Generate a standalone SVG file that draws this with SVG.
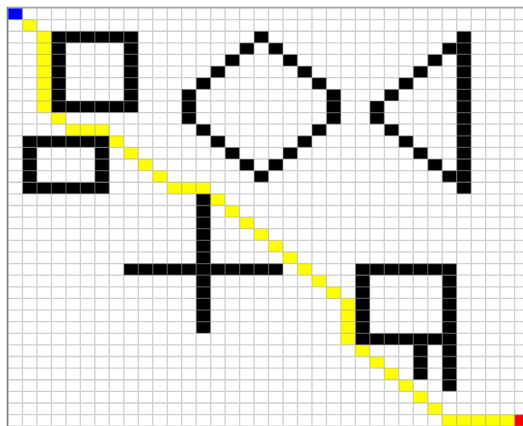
<svg xmlns="http://www.w3.org/2000/svg" width="523" height="426" viewBox="0 0 523 426">
<style>
.k{fill:#000000}
.y{fill:#ffff00}
.b{fill:#0000ff}
.r{fill:#ff0000}
.grid{stroke:#a0a0a0;stroke-opacity:0.5;stroke-width:1.3;fill:none}
</style>
<defs>
<rect id="c" width="1" height="1"/>
</defs>
<rect width="523" height="426" fill="#ffffff"/>
<g transform="translate(8,8) scale(14.474,11.617)">
  <g id="route">
    <rect class="b" x="0" y="0" width="1" height="1"/>
    <g class="y">
      <use href="#c" x="1" y="1"/>
      <rect x="2" y="2" width="1" height="7"/>
      <use href="#c" x="3" y="9"/>
      <rect x="4" y="10" width="3" height="1"/>
      <use href="#c" x="7" y="11"/>
      <use href="#c" x="8" y="12"/>
      <use href="#c" x="9" y="13"/>
      <use href="#c" x="10" y="14"/>
      <rect x="11" y="15" width="3" height="1"/>
      <use href="#c" x="14" y="16"/>
      <use href="#c" x="15" y="17"/>
      <use href="#c" x="16" y="18"/>
      <use href="#c" x="17" y="19"/>
      <use href="#c" x="18" y="20"/>
      <use href="#c" x="19" y="21"/>
      <use href="#c" x="20" y="22"/>
      <use href="#c" x="21" y="23"/>
      <use href="#c" x="22" y="24"/>
      <rect x="23" y="25" width="1" height="4"/>
      <use href="#c" x="24" y="29"/>
      <use href="#c" x="25" y="30"/>
      <use href="#c" x="26" y="31"/>
      <use href="#c" x="27" y="32"/>
      <use href="#c" x="28" y="33"/>
      <use href="#c" x="29" y="34"/>
      <rect x="30" y="35" width="5" height="1"/>
    </g>
    <rect class="r" x="35" y="35" width="1" height="1"/>
  </g>
  <g id="square" class="k">
    <rect x="3" y="2" width="6" height="1"/>
    <rect x="3" y="8" width="6" height="1"/>
    <rect x="3" y="3" width="1" height="5"/>
    <rect x="8" y="3" width="1" height="5"/>
  </g>
  <g id="rectangle" class="k">
    <rect x="1" y="11" width="6" height="1"/>
    <rect x="1" y="15" width="6" height="1"/>
    <rect x="1" y="12" width="1" height="3"/>
    <rect x="6" y="12" width="1" height="3"/>
  </g>
  <g id="diamond" class="k">
    <use href="#c" x="17" y="2"/>
    <use href="#c" x="16" y="3"/><use href="#c" x="18" y="3"/>
    <use href="#c" x="15" y="4"/><use href="#c" x="19" y="4"/>
    <use href="#c" x="14" y="5"/><use href="#c" x="20" y="5"/>
    <use href="#c" x="13" y="6"/><use href="#c" x="21" y="6"/>
    <rect x="12" y="7" width="1" height="3"/><rect x="22" y="7" width="1" height="3"/>
    <use href="#c" x="13" y="10"/><use href="#c" x="21" y="10"/>
    <use href="#c" x="14" y="11"/><use href="#c" x="20" y="11"/>
    <use href="#c" x="15" y="12"/><use href="#c" x="19" y="12"/>
    <use href="#c" x="16" y="13"/><use href="#c" x="18" y="13"/>
    <use href="#c" x="17" y="14"/>
  </g>
  <g id="triangle" class="k">
    <rect x="31" y="2" width="1" height="14"/>
    <use href="#c" x="30" y="3"/>
    <use href="#c" x="29" y="4"/>
    <use href="#c" x="28" y="5"/>
    <use href="#c" x="27" y="6"/>
    <use href="#c" x="26" y="7"/>
    <rect x="25" y="8" width="1" height="2"/>
    <use href="#c" x="26" y="10"/>
    <use href="#c" x="27" y="11"/>
    <use href="#c" x="28" y="12"/>
    <use href="#c" x="29" y="13"/>
    <use href="#c" x="30" y="14"/>
  </g>
  <g id="cross" class="k">
    <rect x="13" y="16" width="1" height="12"/>
    <rect x="8" y="22" width="11" height="1"/>
  </g>
  <g id="flag" class="k">
    <rect x="24" y="22" width="7" height="1"/>
    <rect x="24" y="23" width="1" height="6"/>
    <rect x="25" y="28" width="5" height="1"/>
    <rect x="30" y="23" width="1" height="10"/>
    <rect x="28" y="29" width="1" height="3"/>
  </g>
  <path class="grid" vector-effect="non-scaling-stroke" d="M0 0V37M1 0V37M2 0V37M3 0V37M4 0V37M5 0V37M6 0V37M7 0V37M8 0V37M9 0V37M10 0V37M11 0V37M12 0V37M13 0V37M14 0V37M15 0V37M16 0V37M17 0V37M18 0V37M19 0V37M20 0V37M21 0V37M22 0V37M23 0V37M24 0V37M25 0V37M26 0V37M27 0V37M28 0V37M29 0V37M30 0V37M31 0V37M32 0V37M33 0V37M34 0V37M35 0V37M36 0V37M0 0H37M0 1H37M0 2H37M0 3H37M0 4H37M0 5H37M0 6H37M0 7H37M0 8H37M0 9H37M0 10H37M0 11H37M0 12H37M0 13H37M0 14H37M0 15H37M0 16H37M0 17H37M0 18H37M0 19H37M0 20H37M0 21H37M0 22H37M0 23H37M0 24H37M0 25H37M0 26H37M0 27H37M0 28H37M0 29H37M0 30H37M0 31H37M0 32H37M0 33H37M0 34H37M0 35H37M0 36H37"/>
</g>
<path d="M7 7.5H523" stroke="#a4a4a4" stroke-width="1.5" fill="none"/>
<path d="M7.5 7V426" stroke="#7c7c7c" stroke-width="1.5" fill="none"/>
</svg>
